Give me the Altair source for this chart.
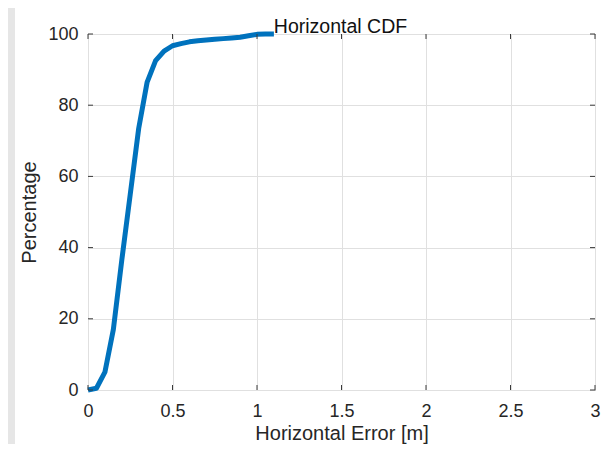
import altair as alt
import pandas as pd

# ---- data ----
x_err = [0, 0.05, 0.1, 0.15, 0.2, 0.25, 0.3, 0.35, 0.4, 0.45, 0.5, 0.55,
         0.6, 0.65, 0.7, 0.75, 0.8, 0.85, 0.9, 0.95, 1.0, 1.05, 1.1]
pct = [0, 0.5, 5, 17, 36.5, 55, 73.5, 86.5, 92.5, 95.2, 96.7, 97.3,
       97.8, 98.1, 98.3, 98.5, 98.7, 98.9, 99.1, 99.5, 99.9, 100, 100]
x_ticks = [0, 0.5, 1, 1.5, 2, 2.5, 3]
y_ticks = [0, 20, 40, 60, 80, 100]
chart_title = "Horizontal CDF"
x_title = "Horizontal Error [m]"
y_title = "Percentage"

W, H = 507, 356
FONT = "Liberation Sans"
AX = "#3a3a3a"
TXT = "#262626"
GRID = "#e0e0e0"
TICK = 5

df = pd.DataFrame({"x": x_err, "y": pct})
xt = pd.DataFrame({"x": x_ticks})
yt = pd.DataFrame({"y": y_ticks})
one = pd.DataFrame({"a": [0]})

xscale = alt.Scale(domain=[0, 3], nice=False, zero=False)
yscale = alt.Scale(domain=[0, 100], nice=False, zero=False)

x_axis = alt.Axis(values=x_ticks, format=".1~f", grid=True, gridColor=GRID,
                  ticks=False, tickSize=0, domain=False, labelFlush=False,
                  labelOverlap=False, labelPadding=12, labelFontSize=18,
                  labelFont=FONT, labelColor=TXT, title=x_title,
                  titleFontSize=20, titleFont=FONT, titleFontWeight="normal",
                  titleColor=TXT, titleX=W / 2, titleY=49,
                  titleBaseline="alphabetic", titleAlign="center")
y_axis = alt.Axis(values=y_ticks, format="d", grid=True, gridColor=GRID,
                  ticks=False, tickSize=0, domain=False, labelFlush=False,
                  labelOverlap=False, labelPadding=10, labelFontSize=18,
                  labelFont=FONT, labelColor=TXT, labelBaseline="middle",
                  title=y_title, titleFontSize=20, titleFont=FONT,
                  titleFontWeight="normal", titleColor=TXT, titleAngle=270,
                  titleX=-53, titleY=H / 2, titleBaseline="alphabetic",
                  titleAlign="center")

X = alt.X("x:Q", scale=xscale, axis=x_axis)
Y = alt.Y("y:Q", scale=yscale, axis=y_axis)

line = alt.Chart(df).mark_line(color="#0072BD", strokeWidth=5,
                               strokeJoin="round").encode(x=X, y=Y)

tick_b = alt.Chart(xt).mark_rule(color=AX, strokeWidth=1).encode(
    x=X, y=alt.value(H), y2=alt.value(H - TICK))
tick_t = alt.Chart(xt).mark_rule(color=AX, strokeWidth=1).encode(
    x=X, y=alt.value(0), y2=alt.value(TICK))
tick_l = alt.Chart(yt).mark_rule(color=AX, strokeWidth=1).encode(
    y=Y, x=alt.value(0), x2=alt.value(TICK))
tick_r = alt.Chart(yt).mark_rule(color=AX, strokeWidth=1).encode(
    y=Y, x=alt.value(W), x2=alt.value(W - TICK))

strip = alt.Chart(one).mark_rect(color="#e6e6e6").encode(
    x=alt.value(-80), x2=alt.value(-73), y=alt.value(-30), y2=alt.value(H + 60))

title = alt.Chart(one).mark_text(text=chart_title, font=FONT, fontSize=19.5,
                                 color="#111111", align="center",
                                 baseline="alphabetic").encode(
    x=alt.value(W / 2 - 1), y=alt.value(-1))

chart = alt.layer(line, tick_b, tick_t, tick_l, tick_r, strip, title).properties(
    width=W, height=H,
    padding={"left": 80, "top": 26, "right": 10, "bottom": 54},
    autosize=alt.AutoSizeParams(type="none"),
    background="white",
).configure_view(stroke=AX, strokeWidth=1)

chart.save("out.html", embed_options={"renderer": "svg", "actions": False})
